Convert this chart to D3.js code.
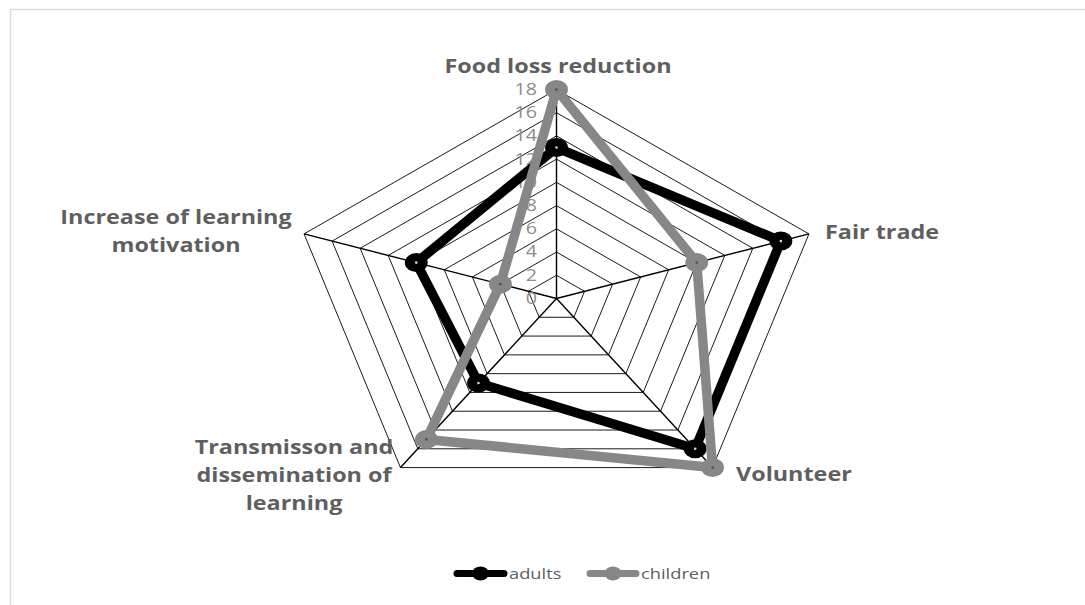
<!DOCTYPE html>
<html><head><meta charset="utf-8">
<script src="https://cdn.jsdelivr.net/npm/d3@7"></script>
<style>body{margin:0;background:#fff}svg{display:block}text{font-family:"Open Sans",sans-serif}</style>
</head><body><svg id="c" width="1085" height="605"></svg>
<script>
const categories = ["Food loss reduction","Fair trade","Volunteer","Transmisson and dissemination of learning","Increase of learning motivation"];
const categoryLines = [["Food loss reduction"],["Fair trade"],["Volunteer"],["Transmisson and","dissemination of","learning"],["Increase of learning","motivation"]];
const adults = [13,16,16,9,10];
const children = [18,10,18,15,4];
const seriesNames = ["adults","children"];
const ticks = [0,2,4,6,8,10,12,14,16,18];

const svg = d3.select("#c");
const cx = 556.5, cy = 298.5;
const SX = 1.27; // horizontal stretch of the reference
const rY = d3.scaleLinear().domain([0,18]).range([0,209]);
const rX = d3.scaleLinear().domain([0,18]).range([0,209*SX]);
const ang = d3.scaleLinear().domain([0,categories.length]).range([-Math.PI/2, 1.5*Math.PI]);
const px = (i,v)=>cx + rX(v)*Math.cos(ang(i));
const py = (i,v)=>cy + rY(v)*Math.sin(ang(i));

// border
svg.append("path").attr("d","M10.5,605 V9.5 H1085").attr("fill","none").attr("stroke","#d9d9d9").attr("stroke-width",1.5);

const idx = d3.range(categories.length);
// rings
svg.append("g").selectAll("path").data(ticks.filter(t=>t>0)).join("path")
  .attr("d",t=>d3.line()(idx.concat([0]).map(i=>[px(i,t),py(i,t)])))
  .attr("fill","none").attr("stroke","#000").attr("stroke-width",0.9);
// spokes
svg.append("g").selectAll("line").data(idx).join("line")
  .attr("x1",cx).attr("y1",cy).attr("x2",i=>px(i,18)).attr("y2",i=>py(i,18))
  .attr("stroke","#000").attr("stroke-width",1.4);

// tick labels
svg.append("g").selectAll("text").data(ticks).join("text")
  .attr("transform",t=>`translate(${cx-19.5},${cy-rY(t)}) scale(${SX},1)`)
  .attr("text-anchor","end").attr("dy","0.35em")
  .attr("font-size",15.5).attr("fill","#8c8c8c").text(t=>t);

// series
const series = [{name:seriesNames[0],vals:adults,color:"#000000"},{name:seriesNames[1],vals:children,color:"#878787"}];
series.forEach(s=>{
  const pts = s.vals.map((v,i)=>[px(i,v),py(i,v)]);
  svg.append("path").attr("d",d3.line()(pts.concat([pts[0]])))
    .attr("fill","none").attr("stroke",s.color).attr("stroke-width",9.5).attr("stroke-linejoin","round");
  const g = svg.append("g");
  g.selectAll("ellipse.m").data(pts).join("ellipse").attr("class","m")
    .attr("cx",d=>d[0]).attr("cy",d=>d[1]).attr("rx",10*SX*0.9).attr("ry",9.5).attr("fill",s.color);
  g.selectAll("circle.d").data(pts).join("circle").attr("class","d")
    .attr("cx",d=>d[0]).attr("cy",d=>d[1]).attr("r",1.3).attr("fill",s.name==="adults"?"#d0d8f0":"#3a4f8a");
});

// category labels
const labelPos = [
  {x:558,y:73,anchor:"middle"},
  {x:825,y:239,anchor:"start"},
  {x:736,y:481,anchor:"start"},
  {x:294,y:454,anchor:"middle"},
  {x:176,y:224,anchor:"middle"}
];
categoryLines.forEach((lines,i)=>{
  const p = labelPos[i];
  lines.forEach((ln,j)=>{
    svg.append("text").attr("transform",`translate(${p.x},${p.y+j*28}) scale(1.23,1)`)
      .attr("text-anchor",p.anchor).attr("font-size",19).attr("font-weight","bold").attr("fill","#5f5f5f").text(ln);
  });
});

// legend
const leg = [{x0:454,x1:507,tx:509},{x0:587,x1:639,tx:641}];
series.forEach((s,i)=>{
  const L = leg[i], y=573.5;
  svg.append("line").attr("x1",L.x0+3).attr("x2",L.x1-3).attr("y1",y).attr("y2",y)
    .attr("stroke",s.color).attr("stroke-width",7).attr("stroke-linecap","round");
  svg.append("ellipse").attr("cx",(L.x0+L.x1)/2).attr("cy",y).attr("rx",8.5).attr("ry",7).attr("fill",s.color);
  svg.append("text").attr("transform",`translate(${L.tx},${y}) scale(1.22,1)`).attr("dy","0.35em")
    .attr("font-size",15).attr("fill","#5f5f5f").text(s.name);
});
</script></body></html>
